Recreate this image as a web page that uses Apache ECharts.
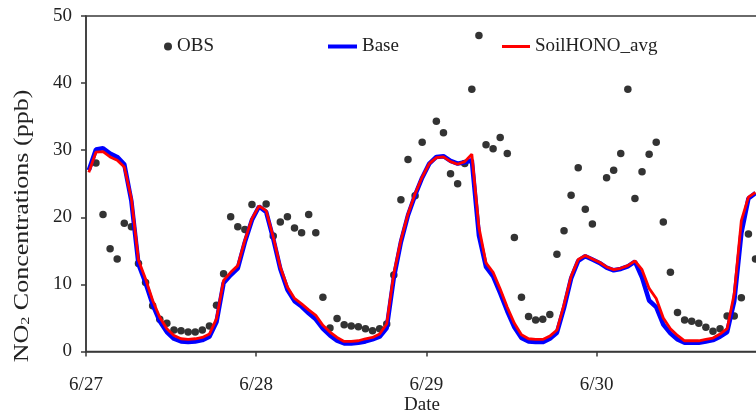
<!DOCTYPE html>
<html>
<head>
<meta charset="utf-8">
<script src="https://cdn.jsdelivr.net/npm/echarts@6/dist/echarts.min.js"></script>
<style>
  html, body { margin: 0; padding: 0; background: #fff; }
  #chart { width: 756px; height: 414px; }
</style>
</head>
<body>
<div id="chart"></div>
<script>
// Hourly NO2 (ppb), 6/27 00h onward; null = no observation
const dayLabels = ['6/27', '6/28', '6/29', '6/30'];
const firstHour = 0.4;

const obs = [
  null, 28.1, 20.4, 15.3, 13.8, 19.1, 18.6, 13.1, 10.3, 6.8, 4.8, 4.2,
  3.2, 3.1, 2.9, 2.9, 3.2, 3.8, 6.9, 11.6, 20.1, 18.6, 18.2, 21.9,
  null, 22.0, 17.2, 19.3, 20.1, 18.4, 17.7, 20.4, 17.7, 8.1, 3.5, 4.9,
  4.0, 3.8, 3.7, 3.4, 3.1, 3.4, 4.1, 11.4, 22.6, 28.6, 23.2, 31.2,
  null, 34.3, 32.6, 26.5, 25.0, 28.0, 39.1, 47.1, 30.8, 30.2, 31.9, 29.5,
  17.0, 8.1, 5.2, 4.7, 4.8, 5.5, 14.5, 18.0, 23.3, 27.4, 21.2, 19.0,
  null, 25.9, 27.0, 29.5, 39.1, 22.8, 26.8, 29.4, 31.2, 19.3, 11.8, 5.8,
  4.7, 4.5, 4.2, 3.6, 3.0, 3.4, 5.3, 5.3, 8.0, 17.5, 13.8
];

const base = [
  27.0, 30.1, 30.3, 29.5, 29.0, 27.9, 22.4, 13.0, 10.2, 7.0, 4.5, 2.9,
  1.9, 1.5, 1.4, 1.5, 1.7, 2.2, 4.4, 10.2, 11.4, 12.4, 16.3, 19.6,
  21.6, 20.8, 16.8, 12.3, 9.2, 7.5, 6.7, 5.7, 4.8, 3.4, 2.4, 1.6,
  1.2, 1.2, 1.3, 1.5, 1.8, 2.2, 3.5, 11.0, 16.3, 20.3, 23.3, 25.9,
  28.0, 29.0, 29.1, 28.4, 28.0, 28.2, 28.5, 17.3, 12.6, 11.2, 8.7, 6.0,
  3.6, 2.0, 1.5, 1.4, 1.4, 1.9, 2.8, 6.5, 10.9, 13.5, 14.2, 13.7,
  13.2, 12.5, 12.1, 12.3, 12.7, 13.4, 11.0, 7.6, 6.6, 4.0, 2.7, 1.8,
  1.3, 1.3, 1.3, 1.5, 1.7, 2.2, 2.9, 7.5, 17.6, 22.8, 23.6
];

const soilHono = [
  26.7, 29.7, 29.8, 29.0, 28.5, 27.5, 22.8, 13.6, 10.8, 7.6, 5.1, 3.4,
  2.4, 1.9, 1.8, 1.9, 2.1, 2.6, 4.9, 10.6, 11.8, 12.8, 16.6, 19.8,
  21.7, 21.0, 17.1, 12.6, 9.6, 7.9, 7.1, 6.2, 5.4, 3.9, 2.9, 2.1,
  1.5, 1.5, 1.6, 1.9, 2.1, 2.6, 4.1, 11.6, 16.6, 20.5, 23.5, 26.0,
  28.0, 28.9, 29.0, 28.3, 27.9, 28.3, 29.4, 18.5, 13.2, 11.8, 9.3, 6.6,
  4.2, 2.5, 1.9, 1.8, 1.8, 2.3, 3.2, 7.0, 11.2, 13.7, 14.3, 13.8,
  13.3, 12.6, 12.2, 12.4, 12.8, 13.5, 12.2, 9.4, 7.9, 5.0, 3.4, 2.4,
  1.6, 1.6, 1.6, 1.8, 2.0, 2.6, 3.4, 8.6, 19.5, 23.0, 23.7
];

const yTicks = [0, 10, 20, 30, 40, 50];

const toPairs = arr => arr.map((v, i) => [firstHour + i, v]);

const serif = 'Liberation Serif';
const axisColor = '#3a3a3a';
const textColor = '#222';

const chart = echarts.init(document.getElementById('chart'), null, { renderer: 'canvas' });

const legendText = { fontFamily: serif, fontSize: 19, color: textColor };

chart.setOption({
  backgroundColor: '#ffffff',
  animation: false,
  grid: {
    left: 86, right: -2, top: 16, bottom: 62.5,
    containLabel: false, outerBoundsMode: 'none',
    show: true, borderColor: axisColor, borderWidth: 1.5,
    backgroundColor: 'transparent'
  },
  legend: [
    {
      data: ['OBS'], left: 164, top: 37, padding: 0, icon: 'circle',
      itemWidth: 8, itemHeight: 8, textGap: 13, textStyle: legendText
    },
    {
      data: ['Base'], left: 328, top: 37, padding: 0, icon: 'rect',
      itemWidth: 29, itemHeight: 4, textGap: 1, textStyle: legendText
    },
    {
      data: ['SoilHONO_avg'], left: 502, top: 37, padding: 0, icon: 'rect',
      itemWidth: 28, itemHeight: 3, textGap: 2, textStyle: legendText
    }
  ],
  xAxis: {
    type: 'value', min: 0, max: 94.75, interval: 24,
    name: 'Date', nameLocation: 'middle', nameGap: 44, nameMoveOverlap: false,
    nameTextStyle: { fontFamily: serif, fontSize: 19, color: textColor },
    axisLine: { show: true, lineStyle: { color: axisColor, width: 1.5 } },
    axisTick: { show: true, length: 5, inside: false, lineStyle: { color: axisColor, width: 1.5 } },
    axisLabel: {
      margin: 24, showMaxLabel: false,
      fontFamily: serif, fontSize: 19, color: textColor,
      formatter: v => (v % 24 === 0 ? dayLabels[v / 24] || '' : '')
    },
    splitLine: { show: false }
  },
  yAxis: {
    type: 'value', min: yTicks[0], max: yTicks[yTicks.length - 1], interval: 10,
    axisLine: { show: true, lineStyle: { color: axisColor, width: 1.5 } },
    axisTick: { show: true, length: 5, inside: false, lineStyle: { color: axisColor, width: 1.5 } },
    axisLabel: { margin: 14, fontFamily: serif, fontSize: 19, color: textColor },
    splitLine: { show: false }
  },
  graphic: [
    {
      // vertical axis title, set a little wide along its run
      type: 'text', x: 22, y: 226, rotation: Math.PI / 2, scaleX: 1.24,
      style: {
        text: '{a|NO}{s|2}{a| Concentrations (ppb)}',
        align: 'center', verticalAlign: 'middle',
        fill: textColor,
        rich: {
          a: { fontFamily: serif, fontSize: 21, fill: textColor },
          s: { fontFamily: serif, fontSize: 13, fill: textColor, padding: [8, 0, 0, 0] }
        }
      }
    }
  ],
  series: [
    {
      name: 'OBS', type: 'scatter', data: toPairs(obs),
      symbol: 'circle', symbolSize: 7.5,
      itemStyle: { color: '#000' }, z: 2
    },
    {
      name: 'Base', type: 'line', data: toPairs(base),
      symbol: 'none', showSymbol: false,
      lineStyle: { color: '#0000ff', width: 4.5 },
      itemStyle: { color: '#0000ff' }, z: 3
    },
    {
      name: 'SoilHONO_avg', type: 'line', data: toPairs(soilHono),
      symbol: 'none', showSymbol: false,
      lineStyle: { color: '#ff0000', width: 2.8 },
      itemStyle: { color: '#ff0000' }, z: 4
    }
  ]
});
</script>
</body>
</html>
